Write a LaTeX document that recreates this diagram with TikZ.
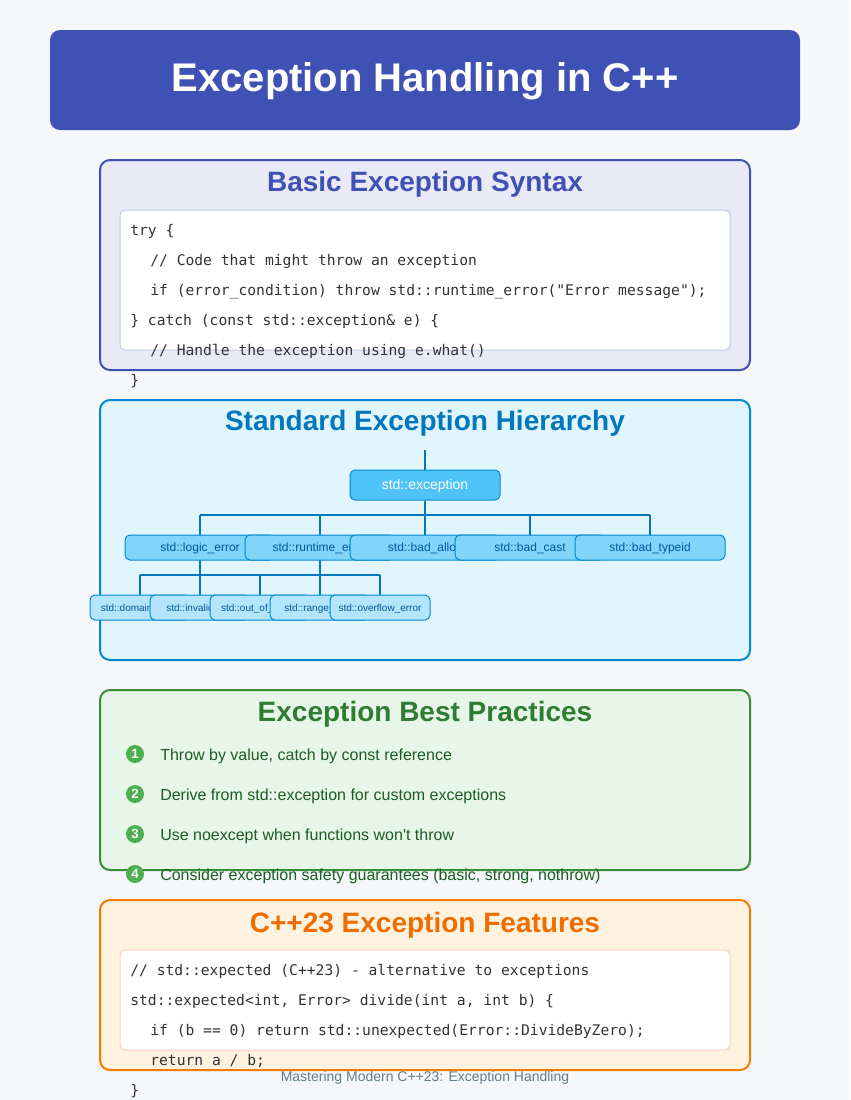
\documentclass[tikz,border=0pt]{standalone}
\usepackage{fontspec}
\setmainfont{Liberation Sans}[Ligatures=TeXOff]
\newfontfamily\codefont{DejaVu Sans Mono}
\usetikzlibrary{calc}
\definecolor{bgc}{HTML}{F5F7FA}
\definecolor{indigo}{HTML}{3F51B5}
\definecolor{indigolt}{HTML}{E8EAF6}
\definecolor{indigoln}{HTML}{C5CAE9}
\definecolor{blueb}{HTML}{0288D1}
\definecolor{bluet}{HTML}{0277BD}
\definecolor{bluelt}{HTML}{E1F5FE}
\definecolor{rootf}{HTML}{4FC3F7}
\definecolor{lvtwo}{HTML}{81D4FA}
\definecolor{lvthree}{HTML}{B3E5FC}
\definecolor{navy}{HTML}{01579B}
\definecolor{greenb}{HTML}{388E3C}
\definecolor{greent}{HTML}{2E7D32}
\definecolor{greenlt}{HTML}{E8F5E9}
\definecolor{greend}{HTML}{1B5E20}
\definecolor{greenc}{HTML}{4CAF50}
\definecolor{orangeb}{HTML}{F57C00}
\definecolor{oranget}{HTML}{EF6C00}
\definecolor{orangelt}{HTML}{FFF3E0}
\definecolor{orangeln}{HTML}{FFCCBC}
\definecolor{codegray}{HTML}{333333}
\definecolor{footg}{HTML}{607D8B}
\tikzset{
  section/.style={rounded corners=7.5pt, line width=1.5pt},
  codebox/.style={rounded corners=3.75pt, line width=0.75pt, fill=white},
  sectitle/.style={anchor=base, font=\bfseries\fontsize{21pt}{25pt}\selectfont, inner sep=0},
  codeline/.style={anchor=base west, inner sep=0, text=codegray, font=\codefont\fontsize{11pt}{13pt}\selectfont},
  treeline/.style={draw=bluet, line width=1.5pt},
  rootbox/.style={draw=blueb, line width=0.75pt, fill=rootf, rounded corners=3.75pt, minimum width=112.5pt, minimum height=22.5pt, inner sep=0, text=white, font=\fontsize{10.5pt}{12pt}\selectfont, text height=1.5ex, text depth=.3ex},
  leveltwo/.style={draw=blueb, line width=0.75pt, fill=lvtwo, rounded corners=3.75pt, minimum width=112.5pt, minimum height=18.75pt, inner sep=0, text=navy, font=\fontsize{9pt}{11pt}\selectfont, text height=1.5ex, text depth=.3ex},
  levelthree/.style={draw=blueb, line width=0.75pt, fill=lvthree, rounded corners=3.75pt, minimum width=75pt, minimum height=18.75pt, inner sep=0, text=navy, font=\fontsize{7.5pt}{9pt}\selectfont, text height=1.5ex, text depth=.3ex},
  numdot/.style={circle, fill=greenc, minimum size=13.5pt, inner sep=0, text=white, font=\bfseries\fontsize{10pt}{11pt}\selectfont},
  itemtext/.style={anchor=base west, inner sep=0, text=greend, font=\fontsize{12pt}{14pt}\selectfont}
}
\begin{document}
\begin{tikzpicture}[x=0.75pt,y=-0.75pt]
\useasboundingbox (0,0) rectangle (850,1100);
\fill[bgc] (0,0) rectangle (850,1100);

% header
\fill[indigo, rounded corners=7.5pt] (50,30) rectangle (800,130);
\node[anchor=base, inner sep=0, text=white, font=\bfseries\fontsize{30pt}{34pt}\selectfont] (title) at (425,91) {Exception Handling in C++};

% section 1
\draw[section, draw=indigo, fill=indigolt] (100,160) rectangle (750,370);
\node[sectitle, text=indigo] (t1) at (425,191) {Basic Exception Syntax};
\draw[codebox, draw=indigoln] (120,210) rectangle (730,350);

% section 2
\draw[section, draw=blueb, fill=bluelt] (100,400) rectangle (750,660);
\node[sectitle, text=bluet] (t2) at (425,430) {Standard Exception Hierarchy};

% tree nodes positions
\coordinate (stub) at (425,450);
\coordinate (busa) at (425,515);
\coordinate (busb) at (260,575);

\node[rootbox] (ex) at (425,485) {std::exception};

\path (200,547.5) coordinate (cle) (320,547.5) coordinate (crt) (425,547.5) coordinate (cba)
      (530,547.5) coordinate (cbc) (650,547.5) coordinate (cbt);
\path (140,607.5) coordinate (cde) (200,607.5) coordinate (cia) (260,607.5) coordinate (coo)
      (320,607.5) coordinate (cre) (380,607.5) coordinate (coe);

% connectors (drawn under boxes)
\draw[treeline] (stub) -- (ex.north);
\draw[treeline] (ex.south) -- (busa);
\draw[treeline] (busa -| cle) -- (busa -| cbt);
\foreach \c in {cle,crt,cba,cbc,cbt}{
  \draw[treeline] (busa -| \c) -- ($(\c)+(0,-12.5)$);
}
\draw[treeline] ($(cle)+(0,12.5)$) -- (busb -| cle);
\draw[treeline] ($(crt)+(0,12.5)$) -- (busb -| crt);
\draw[treeline] (busb -| cde) -- (busb -| coe);
\foreach \c in {cde,cia,coo,cre,coe}{
  \draw[treeline] (busb -| \c) -- ($(\c)+(0,-12.5)$);
}

\node[leveltwo] (le) at (cle) {std::logic\_error};
\node[leveltwo] (rt) at (crt) {std::runtime\_error};
\node[leveltwo] (ba) at (cba) {std::bad\_alloc};
\node[leveltwo] (bc) at (cbc) {std::bad\_cast};
\node[leveltwo] (bt) at (cbt) {std::bad\_typeid};

\node[levelthree] (de) at (cde) {std::domain\_error};
\node[levelthree] (ia) at (cia) {std::invalid\_arg};
\node[levelthree] (oo) at (coo) {std::out\_of\_range};
\node[levelthree] (re) at (cre) {std::range\_error};
\node[levelthree] (oe) at (coe) {std::overflow\_error};

% section 3
\draw[section, draw=greenb, fill=greenlt] (100,690) rectangle (750,870);
\node[sectitle, text=greent] (t3) at (425,721) {Exception Best Practices};

% section 4
\draw[section, draw=orangeb, fill=orangelt] (100,900) rectangle (750,1070);
\node[sectitle, text=oranget] (t4) at (425,932) {C++23 Exception Features};
\draw[codebox, draw=orangeln] (120,950) rectangle (730,1050);

% code section 1
\node[codeline] (c11) at (130,235) {try \{};
\node[codeline] (c12) at (150,265) {// Code that might throw an exception};
\node[codeline] (c13) at (150,295) {if (error\_condition) throw std::runtime\_error("Error message");};
\node[codeline] (c14) at (130,325) {\} catch (const std::exception\& e) \{};
\node[codeline] (c15) at (150,355) {// Handle the exception using e.what()};
\node[codeline] (c16) at (130,385) {\}};

% best practices items
\node[numdot] (n1) at (135,754) {1};
\node[itemtext] (i1) at (160,760) {Throw by value, catch by const reference};
\node[numdot] (n2) at (135,794) {2};
\node[itemtext] (i2) at (160,800) {Derive from std::exception for custom exceptions};
\node[numdot] (n3) at (135,834) {3};
\node[itemtext] (i3) at (160,840) {Use noexcept when functions won't throw};
\node[numdot] (n4) at (135,874) {4};
\node[itemtext] (i4) at (160,880) {Consider exception safety guarantees (basic, strong, nothrow)};

% code section 4
\node[codeline] (c41) at (130,975) {// std::expected (C++23) - alternative to exceptions};
\node[codeline] (c42) at (130,1005) {std::expected<int, Error> divide(int a, int b) \{};
\node[codeline] (c43) at (150,1035) {if (b == 0) return std::unexpected(Error::DivideByZero);};
\node[codeline] (c44) at (150,1065) {return a / b;};
\node[codeline] (c45) at (130,1095) {\}};

% footer
\node[anchor=base, inner sep=0, text=footg, font=\fontsize{10.5pt}{12pt}\selectfont] (foot) at (425,1081) {Mastering Modern C++23: Exception Handling};
\end{tikzpicture}
\end{document}
